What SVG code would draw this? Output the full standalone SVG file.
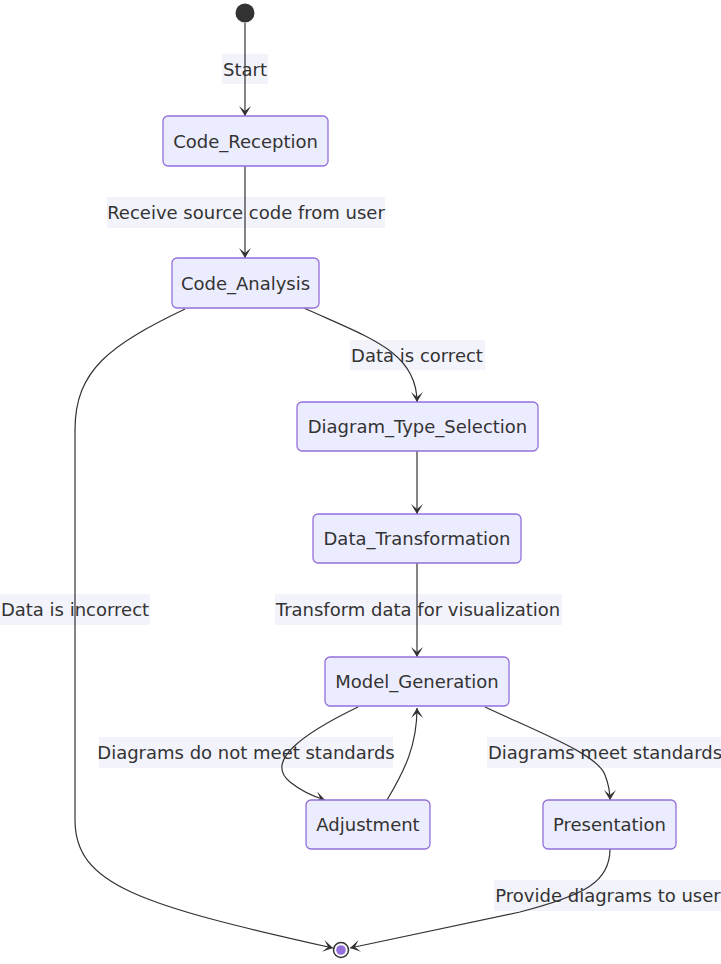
<svg xmlns="http://www.w3.org/2000/svg" width="721" height="964" viewBox="0 0 721 964">
  <style>
    .node rect { fill: #ECECFF; stroke: #9370DB; stroke-width: 1.3; }
    .node text, .lbl text { font-family: "DejaVu Sans", sans-serif; font-size: 18px; fill: #333; text-anchor: middle; dominant-baseline: central; }
    .edge { fill: none; stroke: #333; stroke-width: 1.2; marker-end: url(#arrow); }
    .lbl rect { fill: #F3F3FC; }
  </style>
  <defs>
    <marker id="arrow" viewBox="0 0 20 14" refX="19" refY="7" markerWidth="20" markerHeight="14" markerUnits="userSpaceOnUse" orient="auto">
      <path d="M19,7 L9,13 L14,7 L9,1 Z" fill="#333"/>
    </marker>
  </defs>

  <!-- transition labels (drawn beneath the transition lines) -->
  <g class="lbl">
    <rect x="222" y="54" width="46" height="30"/><text x="245" y="69">Start</text>
    <rect x="107" y="197" width="278" height="31"/><text x="246" y="212">Receive source code from user</text>
    <rect x="350" y="340" width="135" height="30"/><text x="417" y="355">Data is correct</text>
    <rect x="0" y="594" width="150" height="31"/><text x="75" y="609">Data is incorrect</text>
    <rect x="275" y="594" width="287" height="31"/><text x="418" y="609">Transform data for visualization</text>
    <rect x="99" y="737" width="294" height="31"/><text x="246" y="752">Diagrams do not meet standards</text>
    <rect x="487" y="737" width="234" height="31"/><text x="605" y="752">Diagrams meet standards</text>
    <rect x="494" y="880" width="227" height="31"/><text x="608" y="895">Provide diagrams to user</text>
  </g>

  <!-- transitions -->
  <g id="edges">
    <path class="edge" d="M245,23 L245,116"/>
    <path class="edge" d="M245,166 L245,258"/>
    <path class="edge" d="M304,308 C370,338 417,352 417,402"/>
    <path class="edge" d="M185,309 C110,345 75,370 75,430 L75,820 C75,885 140,905 333,948"/>
    <path class="edge" d="M417,451 L417,514"/>
    <path class="edge" d="M417,563 L417,657"/>
    <path class="edge" d="M358,707 C300,735 265,762 290,782 Q305,794 325,800"/>
    <path class="edge" d="M387,800 C405,770 417,745 417,708"/>
    <path class="edge" d="M485,707 C545,735 598,755 605,775 Q610,788 610,800"/>
    <path class="edge" d="M610,849 C610,882 585,895 520,912 L350,948"/>
  </g>

  <!-- start / end -->
  <g id="start"><circle cx="245" cy="13" r="9.5" fill="#333"/></g>
  <g id="end">
    <circle cx="341" cy="950" r="7.5" fill="#fff" stroke="#333" stroke-width="1.5"/>
    <circle cx="341" cy="950" r="4.8" fill="#9370DB"/>
  </g>

  <g id="Code_Reception" class="node"><rect x="163" y="116" width="165" height="50" rx="5"/><text x="245.5" y="141">Code_Reception</text></g>
  <g id="Code_Analysis" class="node"><rect x="172" y="258" width="147" height="50" rx="5"/><text x="245.5" y="283">Code_Analysis</text></g>
  <g id="Diagram_Type_Selection" class="node"><rect x="297" y="402" width="241" height="49" rx="5"/><text x="417.5" y="426.5">Diagram_Type_Selection</text></g>
  <g id="Data_Transformation" class="node"><rect x="313" y="514" width="208" height="49" rx="5"/><text x="417" y="538.5">Data_Transformation</text></g>
  <g id="Model_Generation" class="node"><rect x="325" y="657" width="184" height="49" rx="5"/><text x="417" y="681.5">Model_Generation</text></g>
  <g id="Adjustment" class="node"><rect x="306" y="800" width="124" height="49" rx="5"/><text x="368" y="824.5">Adjustment</text></g>
  <g id="Presentation" class="node"><rect x="543" y="800" width="133" height="49" rx="5"/><text x="609.5" y="824.5">Presentation</text></g>
</svg>
